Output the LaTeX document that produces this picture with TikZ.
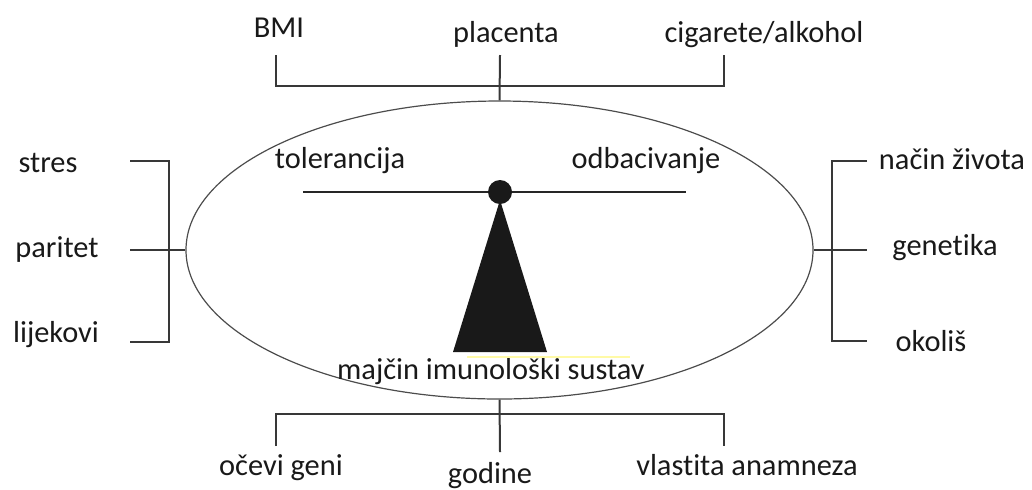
\documentclass[tikz,border=0pt]{standalone}
\usepackage{fontspec}
\setmainfont{Carlito}[Ligatures=NoCommon]
\usetikzlibrary{shapes.geometric}
\begin{document}
\begin{tikzpicture}[x=0.5pt,y=-0.5pt,
  lbl/.style={font=\fontsize{15.2}{18}\selectfont, text=black!90, inner sep=0pt, anchor=base},
  brk/.style={draw=black!78, line width=1pt},
  oval/.style={draw=black!70, line width=0.6pt, ellipse, minimum width=313.5pt, minimum height=149pt, inner sep=0pt},
  pivot/.style={circle, fill=black!90, minimum size=12pt, inner sep=0pt},
  ]
\useasboundingbox (0,0) rectangle (1032,489);
% central oval
\node[oval] (ell) at (499.5,250) {};
% labels
\node[lbl] (bmi)   at (279,37)  {BMI};
\node[lbl] (plac)  at (506,42)  {placenta};
\node[lbl] (cig)   at (764,42)  {cigarete/alkohol};
\node[lbl] (stres) at (48,172)  {stres};
\node[lbl] (par)   at (57,257)  {paritet};
\node[lbl] (lijek) at (56,342)  {lijekovi};
\node[lbl] (nacin) at (952,169) {način života};
\node[lbl] (gen)   at (945,255) {genetika};
\node[lbl] (okol)  at (931,351) {okoliš};
\node[lbl] (tol)   at (340,168) {tolerancija};
\node[lbl] (odb)   at (646,168) {odbacivanje};
\node[lbl] (maj)   at (491,379) {majčin imunološki sustav};
\node[lbl] (ocevi) at (281,475) {očevi geni};
\node[lbl] (god)   at (490,483) {godine};
\node[lbl] (vlast) at (747,475) {vlastita anamneza};
% top bracket
\coordinate (tL) at (276,55);
\coordinate (tR) at (724,55);
\coordinate (tM) at (500,55);
\coordinate (tJ) at (500,86);
\draw[brk] (tL) |- (tJ) -| (tR);
\draw[brk] (tM) -- (ell.north);
% left bracket
\coordinate (lT) at (130,161);
\coordinate (lB) at (130,342);
\coordinate (lM) at (130,250);
\coordinate (lV) at (169,250);
\draw[brk] (lT) -| (lV) |- (lB);
\draw[brk] (lM) -- (ell.west);
% right bracket
\coordinate (rT) at (867,161);
\coordinate (rB) at (867,341);
\coordinate (rM) at (867,250);
\coordinate (rV) at (832,250);
\draw[brk] (rT) -| (rV) |- (rB);
\draw[brk] (ell.east) -- (rM);
% bottom bracket
\coordinate (bL) at (276,446);
\coordinate (bR) at (724,446);
\coordinate (bM) at (500,452);
\coordinate (bJ) at (500,414);
\draw[brk] (bL) |- (bJ) -| (bR);
\draw[brk] (ell.south) -- (bM);
% balance
\coordinate (beamL) at (303,192);
\coordinate (beamR) at (686,192);
\draw[draw=black!85, line width=1.2pt] (beamL) -- (beamR);
\fill[black!90] (500,200) -- (547,352) -- (453,352) -- cycle;
\node[pivot] (piv) at (500,192) {};
\draw[yellow!35, line width=1pt] (467,357) -- (630,357);
\end{tikzpicture}
\end{document}
